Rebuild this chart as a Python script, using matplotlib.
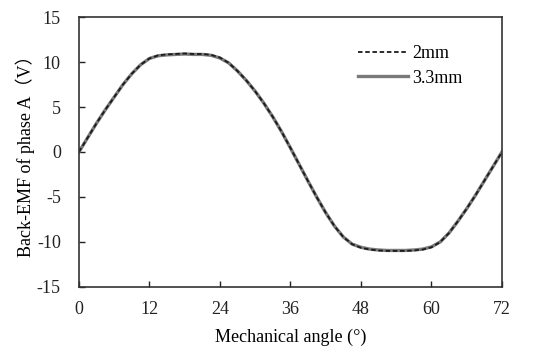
import numpy as np
import matplotlib
matplotlib.use('Agg')
import matplotlib.pyplot as plt

################################################################################
# Data
angle = [0, 1.5, 3, 4.5, 6, 7.5, 9, 10.5, 12, 13.5, 15, 16.5, 18, 19.5, 21, 22.5,
         24, 25.5, 27, 28.5, 30, 31.5, 33, 34.5, 36, 37.5, 39, 40.5, 42, 43.5,
         45, 46.5, 48, 49.5, 51, 52.5, 54, 55.5, 57, 58.5, 60, 61.5, 63, 64.5,
         66, 67.5, 69, 70.5, 72]

emf_2mm = [0.0, 1.6, 3.2, 4.7, 6.1, 7.5, 8.7, 9.7, 10.4, 10.75, 10.85, 10.9,
           10.95, 10.9, 10.9, 10.8, 10.5, 9.9, 9.0, 7.95, 6.75, 5.4, 3.9, 2.25,
           0.45, -1.4, -3.25, -5.05, -6.75, -8.25, -9.45, -10.25, -10.65, -10.85,
           -10.95, -11.0, -11.0, -11.0, -10.95, -10.85, -10.6, -10.0, -9.0,
           -7.7, -6.3, -4.8, -3.2, -1.6, 0.0]

emf_33mm = [0.0, 1.6, 3.2, 4.7, 6.1, 7.5, 8.7, 9.7, 10.4, 10.7, 10.8, 10.85,
            10.9, 10.85, 10.85, 10.75, 10.45, 9.9, 9.0, 7.95, 6.75, 5.4, 3.9,
            2.25, 0.45, -1.4, -3.25, -5.05, -6.75, -8.25, -9.45, -10.25, -10.6,
            -10.8, -10.9, -10.95, -10.95, -10.95, -10.9, -10.8, -10.55, -10.0,
            -9.0, -7.7, -6.3, -4.8, -3.2, -1.6, 0.0]

x_ticks = [0, 12, 24, 36, 48, 60, 72]
y_ticks = [-15, -10, -5, 0, 5, 10, 15]

################################################################################
# Plot
plt.rcParams['font.family'] = ['Liberation Serif', 'Noto Sans CJK SC']
plt.rcParams['axes.unicode_minus'] = False

fig = plt.figure(figsize=(5.48, 3.49), dpi=100)
ax = fig.add_axes([0.144, 0.178, 0.772, 0.773])

ax.plot(angle, emf_33mm, color='#7a7a7a', linewidth=2.4, label='3.3mm')
ax.plot(angle, emf_2mm, color='#1a1a1a', linewidth=1.3, linestyle=(0, (2.5, 1.5)), label='2mm')

ax.set_xlim(0, 72)
ax.set_ylim(-15, 15)
ax.set_xticks(x_ticks)
ax.set_yticks(y_ticks)
ax.tick_params(direction='in', length=4, width=1, labelsize=13, colors='#222222')
ax.tick_params(axis='x', pad=10)
ax.tick_params(axis='y', pad=13)
for s in ax.spines.values():
    s.set_linewidth(1.2)
    s.set_color('#333333')

ax.set_xlabel('Mechanical angle (°)', fontsize=13, labelpad=8)
ax.set_ylabel('Back-EMF of phase A（V）', fontsize=13, labelpad=1)

h, l = ax.get_legend_handles_labels()
ax.legend(h[::-1], l[::-1], loc='upper right', bbox_to_anchor=(0.945, 0.955), frameon=False,
          fontsize=13, handlelength=2.8, handletextpad=0.2, labelspacing=0.4)

fig.savefig('out.png', dpi=100)
